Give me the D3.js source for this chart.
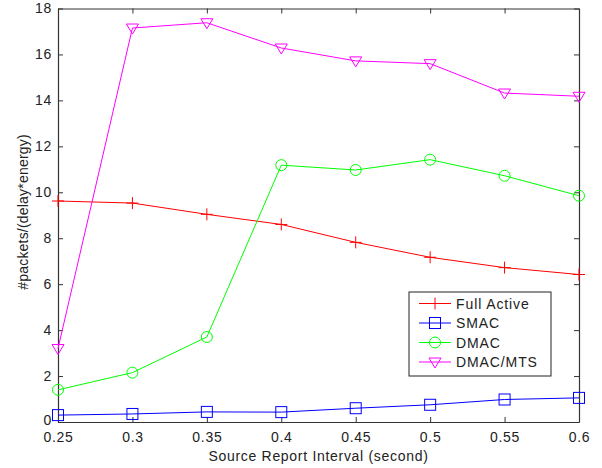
<!DOCTYPE html>
<html><head><meta charset="utf-8">
<script src="https://cdn.jsdelivr.net/npm/d3@7"></script>
<style>body{margin:0;background:#fff}svg{display:block}text{font-family:"Liberation Sans",Arial,sans-serif;letter-spacing:0.7px}</style>
</head><body>
<svg id="c" width="602" height="468"></svg>
<script>
const xValues = [0.25, 0.3, 0.35, 0.4, 0.45, 0.5, 0.55, 0.6];
const fullActive = [9.62, 9.53, 9.04, 8.6, 7.82, 7.17, 6.72, 6.42];
const smac = [0.3, 0.35, 0.44, 0.43, 0.6, 0.75, 0.98, 1.05];
const dmac = [1.4, 2.15, 3.7, 11.18, 10.97, 11.42, 10.72, 9.85];
const dmacMts = [3.2, 17.15, 17.38, 16.28, 15.72, 15.6, 14.32, 14.18];
const seriesNames = ["Full Active", "SMAC", "DMAC", "DMAC/MTS"];
const seriesColors = ["#ff0000", "#0000ff", "#00ff00", "#ff00ff"];
const seriesMarkers = ["plus", "square", "circle", "triangle"];
const xTicks = [0.25, 0.3, 0.35, 0.4, 0.45, 0.5, 0.55, 0.6];
const yTicks = [0, 2, 4, 6, 8, 10, 12, 14, 16, 18];

const series = [fullActive, smac, dmac, dmacMts].map((v, i) => ({
  name: seriesNames[i], color: seriesColors[i], marker: seriesMarkers[i],
  values: v.map((y, j) => ({x: xValues[j], y}))
}));

const L = 58, R = 579, T = 8.5, B = 422;
const x = d3.scaleLinear().domain([0.25, 0.6]).range([L, R]);
const y = d3.scaleLinear().domain([0, 18]).range([B, T]);
const svg = d3.select("#c");

function marker(g, type, color) {
  if (type === "plus") {
    g.append("path").attr("d", "M-6,0H6M0,-6V6").attr("stroke", color).attr("fill", "none");
  } else if (type === "square") {
    g.append("rect").attr("x", -5.5).attr("y", -5.5).attr("width", 11).attr("height", 11).attr("stroke", color).attr("fill", "none");
  } else if (type === "circle") {
    g.append("circle").attr("r", 5.5).attr("stroke", color).attr("fill", "none");
  } else {
    g.append("path").attr("d", "M-6,-4H6L0,6Z").attr("stroke", color).attr("fill", "none");
  }
}

const axisColor = "#333";
const fmtX = d => String(+d.toFixed(2));
const xb = svg.append("g").attr("transform", `translate(0,${B})`).call(d3.axisBottom(x).tickValues(xTicks).tickSizeInner(-5).tickSizeOuter(0).tickPadding(10).tickFormat(fmtX));
const xt = svg.append("g").attr("transform", `translate(0,${T})`).call(d3.axisTop(x).tickValues(xTicks).tickSizeInner(-5).tickSizeOuter(0).tickFormat(""));
const yl = svg.append("g").attr("transform", `translate(${L},0)`).call(d3.axisLeft(y).tickValues(yTicks).tickSizeInner(-5).tickSizeOuter(0).tickPadding(6));
const yr = svg.append("g").attr("transform", `translate(${R},0)`).call(d3.axisRight(y).tickValues(yTicks).tickSizeInner(-5).tickSizeOuter(0).tickFormat(""));
[xb, xt, yl, yr].forEach(a => {
  a.select(".domain").attr("stroke", axisColor).attr("stroke-width", 1.2);
  a.selectAll(".tick line").attr("stroke", axisColor);
  a.selectAll("text").attr("font-size", 14).attr("fill", "#222").attr("font-family", "Liberation Sans, Arial, sans-serif");
});
yl.selectAll(".tick text").filter(d => d === 0).attr("dy", "0.2em");

const line = d3.line().x(d => x(d.x)).y(d => y(d.y));
series.forEach(s => {
  svg.append("path").datum(s.values).attr("d", line).attr("fill", "none").attr("stroke", s.color).attr("stroke-width", 1);
  s.values.forEach(p => {
    const g = svg.append("g").attr("transform", `translate(${x(p.x)},${y(p.y)})`);
    marker(g, s.marker, s.color);
  });
});

svg.append("text").attr("x", (L + R) / 2).attr("y", 461).attr("text-anchor", "middle").attr("font-size", 14).attr("fill", "#222").text("Source Report Interval (second)");
svg.append("text").attr("transform", `translate(28,212) rotate(-90)`).attr("text-anchor", "middle").attr("font-size", 14).attr("fill", "#222").style("letter-spacing", "0.2px").text("#packets/(delay*energy)");

const lg = svg.append("g").attr("transform", "translate(409,292)");
lg.append("rect").attr("width", 142).attr("height", 84).attr("fill", "#fff").attr("stroke", "#222").attr("stroke-width", 1);
series.forEach((s, i) => {
  const yy = 11.5 + i * 19.5;
  lg.append("line").attr("x1", 10).attr("x2", 42).attr("y1", yy).attr("y2", yy).attr("stroke", s.color);
  const g = lg.append("g").attr("transform", `translate(26,${yy})`);
  marker(g, s.marker, s.color);
  lg.append("text").attr("x", 47).attr("y", yy + 5).attr("font-size", 14).attr("fill", "#222").style("letter-spacing", "0.9px").text(s.name);
});
</script>
</body></html>
